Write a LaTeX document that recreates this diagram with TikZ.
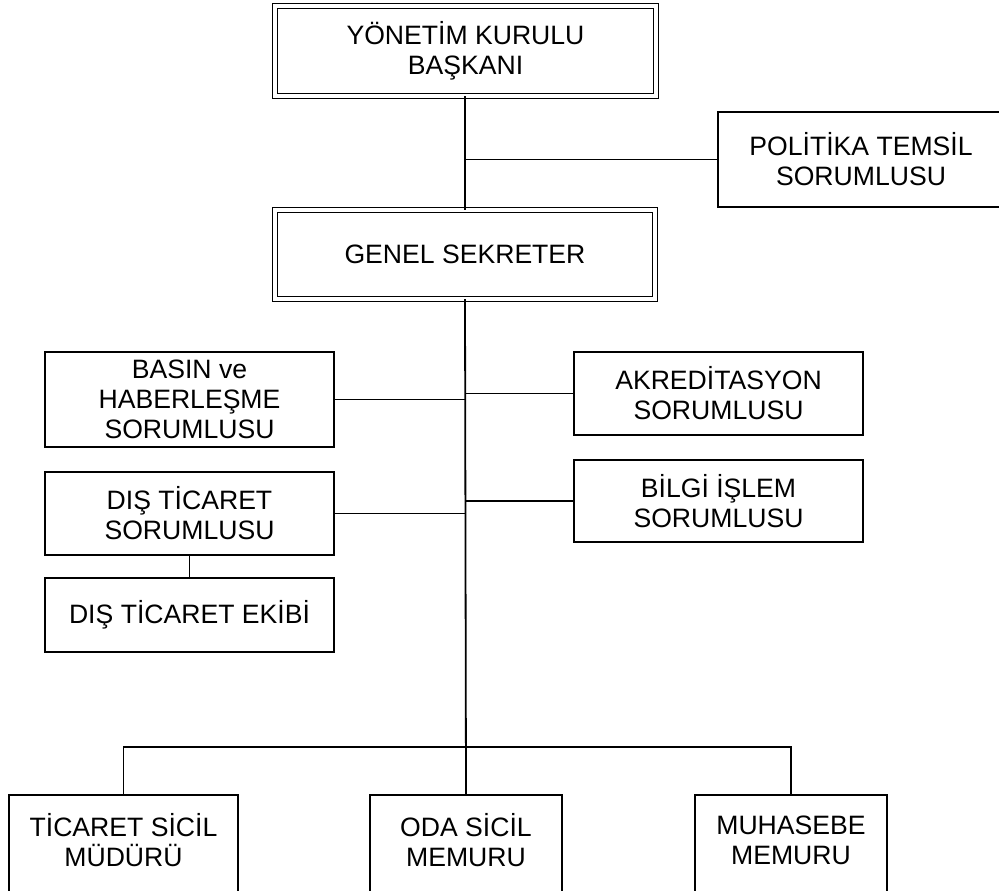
\documentclass[tikz,border=0pt]{standalone}
\usepackage{fontspec}
\setmainfont{Liberation Sans}
\begin{document}
\begin{tikzpicture}[x=1pt,y=-1pt,
  every node/.style={inner sep=0pt, outer sep=0pt},
  txt/.style={font=\fontsize{26.6}{30}\selectfont, align=center, text=black},
  boxs/.style={txt, draw=black, line width=1.6pt, rectangle},
  boxd/.style={txt, draw=black, line width=1.5pt, double, double distance=3.2pt, rectangle},
  conn/.style={draw=black, line width=1.8pt}]
\useasboundingbox (0,0) rectangle (999,891);
\clip (0,0) rectangle (999,891);
\fill[white] (0,0) rectangle (999,891);

\node[boxd, minimum width=381pt, minimum height=90pt] (top) at (465.5,51) {YÖNETİM KURULU\\BAŞKANI};
\node[boxd, minimum width=380pt, minimum height=89pt] (gen) at (465,254.5) {GENEL SEKRETER};
\node[boxs, minimum width=286pt, minimum height=95pt] (pol) at (861,159.5) {POLİTİKA TEMSİL\\SORUMLUSU};

\node[boxs, minimum width=289pt, minimum height=95pt] (bas) at (189.5,399.5) {BASIN ve\\HABERLEŞME\\SORUMLUSU};
\node[boxs, minimum width=289pt, minimum height=83pt] (dts) at (189.5,513.5) {DIŞ TİCARET\\SORUMLUSU};
\node[boxs, minimum width=289pt, minimum height=74pt] (dte) at (189.5,615) {DIŞ TİCARET EKİBİ};

\node[boxs, minimum width=289pt, minimum height=83pt] (akr) at (718.5,393.5) {AKREDİTASYON\\SORUMLUSU};
\node[boxs, minimum width=289pt, minimum height=82pt] (bil) at (718.5,501) {BİLGİ İŞLEM\\SORUMLUSU};

\node[boxs, minimum width=229pt, minimum height=105pt] (tsm) at (123.5,847.5) {};
\node[boxs, minimum width=192pt, minimum height=105pt] (osm) at (466,847.5) {};
\node[boxs, minimum width=192pt, minimum height=105pt] (mm) at (791,847.5) {};
\node[txt] (tsmt) at (123.5,840) {TİCARET SİCİL\\MÜDÜRÜ};
\node[txt] (osmt) at (466,840) {ODA SİCİL\\MEMURU};
\node[txt] (mmt) at (791,840) {MUHASEBE\\MEMURU};

\coordinate (bar) at (466,747);

\draw[conn] (top.south -| gen.south) -- (gen.north);
\draw[conn] (pol.west -| gen.north) -- (pol.west);
\draw[conn] (gen.south) -- (osm.north);
\draw[conn] (bas.east) -- (bas.east -| gen.south);
\draw[conn] (dts.east) -- (dts.east -| gen.south);
\draw[conn] (akr.west) -- (akr.west -| gen.south);
\draw[conn] (bil.west) -- (bil.west -| gen.south);
\draw[conn] (dts.south) -- (dte.north);
\draw[conn] (tsm.north) -- (tsm.north |- bar) -- (mm.north |- bar) -- (mm.north);
\end{tikzpicture}
\end{document}
